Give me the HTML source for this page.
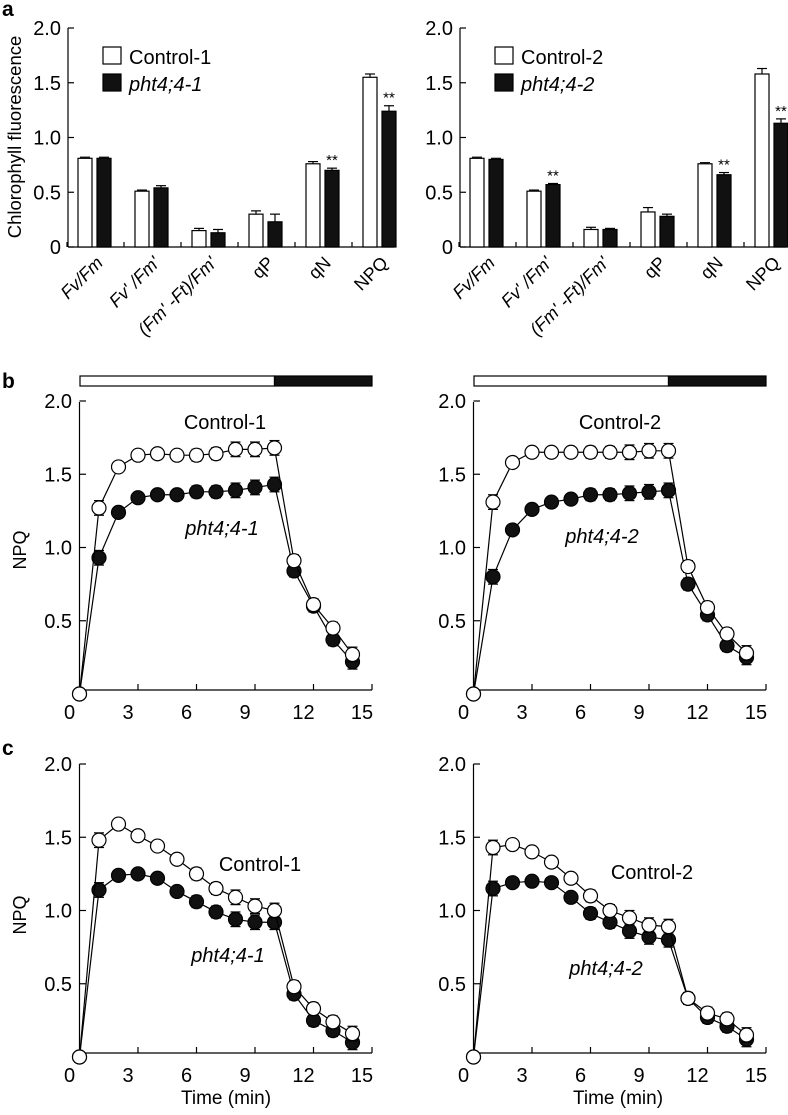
<!DOCTYPE html>
<html><head><meta charset="utf-8"><style>
body{margin:0;background:#fff}
svg{display:block;font-family:"Liberation Sans",sans-serif}
</style></head><body>
<svg id="fig" width="788" height="1115" viewBox="0 0 788 1115">
<text x="2" y="16" font-size="21" font-weight="bold">a</text>
<text x="2" y="388" font-size="21" font-weight="bold">b</text>
<text x="2" y="755" font-size="21" font-weight="bold">c</text>
<text transform="translate(21,137) rotate(-90)" text-anchor="middle" font-size="18.5">Chlorophyll fluorescence</text>
<text transform="translate(26,550) rotate(-90)" text-anchor="middle" font-size="18">NPQ</text>
<text transform="translate(26,915) rotate(-90)" text-anchor="middle" font-size="18">NPQ</text>
<text x="226" y="1104" text-anchor="middle" font-size="19">Time (min)</text>
<text x="618" y="1104" text-anchor="middle" font-size="19">Time (min)</text>
</svg>
<script>
const barCats = ["Fv/Fm","Fv' /Fm'","(Fm' -Ft)/Fm'","qP","qN","NPQ"];
const barCtrl1 = [0.81,0.51,0.15,0.30,0.76,1.55];
const barCtrl1Err = [0.01,0.01,0.02,0.03,0.02,0.03];
const barMut1 = [0.81,0.54,0.13,0.23,0.70,1.24];
const barMut1Err = [0.01,0.02,0.03,0.07,0.02,0.05];
const barSig1 = [false,false,false,false,true,true];
const barCtrl2 = [0.81,0.51,0.16,0.32,0.76,1.58];
const barCtrl2Err = [0.01,0.01,0.02,0.04,0.01,0.05];
const barMut2 = [0.80,0.57,0.16,0.28,0.66,1.13];
const barMut2Err = [0.01,0.01,0.01,0.02,0.02,0.04];
const barSig2 = [false,true,false,false,true,true];
const yTicks = [0,0.5,1.0,1.5,2.0];
const yTickLabels = ["0","0.5","1.0","1.5","2.0"];
const xTicks = [0,3,6,9,12,15];
const times = [0,1,2,3,4,5,6,7,8,9,10,11,12,13,14];
const bCtrl1 = [0,1.27,1.55,1.63,1.64,1.63,1.63,1.64,1.67,1.67,1.68,0.91,0.61,0.45,0.27];
const bMut1 = [0,0.93,1.24,1.34,1.36,1.36,1.38,1.38,1.39,1.41,1.43,0.84,0.60,0.37,0.22];
const bCtrl2 = [0,1.31,1.58,1.65,1.65,1.65,1.65,1.65,1.65,1.66,1.66,0.87,0.59,0.41,0.28];
const bMut2 = [0,0.80,1.12,1.26,1.31,1.33,1.36,1.36,1.37,1.38,1.39,0.75,0.54,0.33,0.25];
const cCtrl1 = [0,1.48,1.59,1.51,1.44,1.35,1.25,1.15,1.09,1.03,1.00,0.48,0.33,0.24,0.16];
const cMut1 = [0,1.14,1.24,1.25,1.22,1.13,1.06,0.99,0.94,0.92,0.92,0.43,0.25,0.18,0.10];
const cCtrl2 = [0,1.43,1.45,1.40,1.33,1.22,1.10,1.00,0.95,0.90,0.89,0.40,0.30,0.26,0.15];
const cMut2 = [0,1.15,1.19,1.20,1.19,1.09,0.98,0.92,0.86,0.82,0.80,0.40,0.27,0.21,0.12];
const lineErr = [0,0.05,0.03,0.03,0.03,0.03,0.04,0.04,0.05,0.05,0.05,0.04,0.04,0.04,0.05];

const NS="http://www.w3.org/2000/svg";
const svg=document.getElementById('fig');
function mk(tag,attrs,parent){const e=document.createElementNS(NS,tag);for(const k in attrs)e.setAttribute(k,attrs[k]);(parent||svg).appendChild(e);return e;}
function line(x1,y1,x2,y2,w){return mk('line',{x1,y1,x2,y2,stroke:'#000','stroke-width':w||1.2});}

function barPanel(ox,ctrl,ce,mut,me,sig,ctrlName,mutName,p){
  const y=v=>247-v*109.5;
  const xg=i=>ox+95+i*57;
  const ax=line(ox+68,28,ox+68,247);
  
  
  const bx=line(ox+68,247,ox+394,247);
  
  
  yTicks.forEach((t,i)=>{line(ox+68,y(t),ox+74,y(t));
    const tx=mk('text',{x:ox+61,y:y(t)+7,'text-anchor':'end','font-size':20});tx.textContent=yTickLabels[i];
    
    });
  barCats.forEach((c,i)=>{
    const gx=xg(i);
    line(gx-28,247,gx-28,242);line(gx-9,247,gx-9,242);line(gx+9,247,gx+9,242);
    [[ctrl[i],ce[i],'#fff',gx-17],[mut[i],me[i],'#111',gx+2]].forEach((d,k)=>{
      const r=mk('rect',{x:d[3],y:y(d[0]),width:14,height:247-y(d[0]),fill:d[2],stroke:'#000','stroke-width':1.2});
      
      
      line(d[3]+7,y(d[0]),d[3]+7,y(d[0]+d[1]));line(d[3]+2,y(d[0]+d[1]),d[3]+12,y(d[0]+d[1]));
    });
    if(sig[i]){const s=mk('text',{x:gx+9,y:y(mut[i]+me[i])-3,'text-anchor':'middle','font-size':15});s.textContent='**';
      
      }
    const lb=mk('text',{transform:`translate(${gx+9},${264}) rotate(-45)`,'text-anchor':'end','font-size':18});
    
    
    if(i<3){lb.setAttribute('font-style','italic');}
    lb.textContent=c;
  });
  const l1=mk('rect',{x:ox+103,y:47,width:18,height:17,fill:'#fff',stroke:'#000','stroke-width':1.2});
  
  
  const l2=mk('rect',{x:ox+103,y:74,width:18,height:17,fill:'#111',stroke:'#000','stroke-width':1.2});
  
  
  const t1=mk('text',{x:ox+129,y:64,'font-size':20});t1.textContent=ctrlName;
  
  
  const t2=mk('text',{x:ox+129,y:91,'font-size':20,'font-style':'italic'});t2.textContent=mutName;
  
  
}

function linePanel(ox,top,y0,ctrl,mut,ctrlName,mutName,cpos,mpos,p,lightBar){
  const y=v=>y0-v*146.5;
  const x=t=>ox+79.5+t*19.5;
  const axY=y0-4;
  const ya=line(ox+79.5,top,ox+79.5,axY);
  
  
  const xa=line(ox+79.5,axY,ox+372,axY);
  
  
  yTicks.slice(1).forEach((t,i)=>{line(ox+79.5,y(t),ox+86,y(t));
    const tx=mk('text',{x:ox+72,y:y(t)+7,'text-anchor':'end','font-size':20});tx.textContent=yTickLabels[i+1];
    
    });
  xTicks.forEach(t=>{if(t>0)line(x(t),axY,x(t),axY-6);
    const tx=mk('text',{x:x(t)-10,y:axY+29,'text-anchor':'middle','font-size':20});tx.textContent=t;
    
    });
  if(lightBar){
    const w=mk('rect',{x:ox+80,y:top-26,width:x(10)-ox-80,height:10,fill:'#fff',stroke:'#000','stroke-width':1.2});
    
    
    const d=mk('rect',{x:x(10),y:top-26,width:ox+372-x(10),height:10,fill:'#111',stroke:'#000','stroke-width':1.2});
    
    
  }
  [[mut,'#111','mutant'],[ctrl,'#fff','control']].forEach(s=>{
    const pl=mk('polyline',{points:times.map((t,i)=>x(t)+','+y(s[0][i])).join(' '),fill:'none',stroke:'#000','stroke-width':1.2});
    
    
    times.forEach((t,i)=>{
      if(lineErr[i]>0){const e=lineErr[i];line(x(t),y(s[0][i]-e),x(t),y(s[0][i]+e));
        line(x(t)-5,y(s[0][i]-e),x(t)+5,y(s[0][i]-e));line(x(t)-5,y(s[0][i]+e),x(t)+5,y(s[0][i]+e));}
      const c=mk('circle',{cx:x(t),cy:y(s[0][i]),r:7,fill:s[1],stroke:'#000','stroke-width':1.2});
      
      
    });
  });
  const a=mk('text',{x:cpos[0],y:cpos[1],'text-anchor':'middle','font-size':20});a.textContent=ctrlName;
  
  
  const b=mk('text',{x:mpos[0],y:mpos[1],'text-anchor':'middle','font-size':20,'font-style':'italic'});b.textContent=mutName;
  
  
}

barPanel(0,barCtrl1,barCtrl1Err,barMut1,barMut1Err,barSig1,'Control-1','pht4;4-1','a-left');
barPanel(392,barCtrl2,barCtrl2Err,barMut2,barMut2Err,barSig2,'Control-2','pht4;4-2','a-right');
linePanel(0,402,694,bCtrl1,bMut1,'Control-1','pht4;4-1',[225,429],[222,535],'b-left',true);
linePanel(394,402,694,bCtrl2,bMut2,'Control-2','pht4;4-2',[620,429],[602,543],'b-right',true);
linePanel(0,764,1057,cCtrl1,cMut1,'Control-1','pht4;4-1',[260,871],[228,962],'c-left',false);
linePanel(394,764,1057,cCtrl2,cMut2,'Control-2','pht4;4-2',[652,879],[606,975],'c-right',false);
</script>
</body></html>
